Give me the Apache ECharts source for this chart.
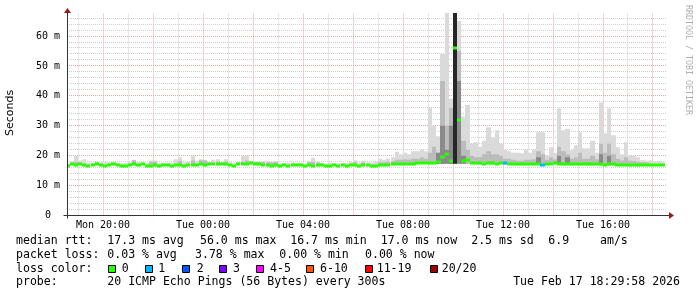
<!DOCTYPE html>
<html><head><meta charset="utf-8">
<script src="https://cdn.jsdelivr.net/npm/echarts@6/dist/echarts.min.js"></script>
<style>html,body{margin:0;padding:0;background:#fff}#c{width:697px;height:297px}</style>
</head><body><div id="c"></div>
<script>
// ---- time base: bins of 10 min, hours counted from Mon 00:00 ----
const startHour = 18 + 35 / 60;   // centre of first bin (Mon 18:35)
const stepHours = 10 / 60;        // 10-minute bins
const xMin = 18.56, xMax = 42.56; // Mon 18:33:36 .. Tue 18:33:36
const yMin = 0, yMax = 67.7;

// ---- median RTT (ms), one per bin ----
const median = [
  16.7,17.2,17.0,17.1,16.9,16.7,17.0,17.1,16.8,16.7,16.9,17.1,
  16.8,16.7,16.7,17.0,17.1,16.8,17.2,16.7,16.7,16.8,16.7,16.8,
  17.0,16.7,16.8,16.9,16.7,16.8,16.9,17.0,17.1,16.8,17.1,17.2,
  17.1,17.3,17.1,17.0,16.7,17.2,17.3,17.3,17.4,17.3,17.1,16.9,
  16.8,16.7,16.8,16.7,16.8,16.7,16.8,16.9,16.8,16.7,16.9,16.7,
  16.8,16.9,16.7,16.7,16.8,16.7,16.8,16.7,16.8,16.8,16.7,16.8,
  16.8,16.7,16.7,16.8,16.9,17.0,17.1,17.2,17.2,17.2,17.3,17.3,
  17.5,17.6,17.6,17.5,17.7,17.8,19.6,20.5,18.2,56.0,31.8,18.3,
  18.4,17.6,17.4,17.4,17.3,17.4,17.4,17.3,17.4,17.4,17.2,17.2,
  17.2,17.1,17.2,17.2,17.1,17.2,17.0,17.1,17.2,17.4,17.2,17.1,
  17.2,17.1,17.2,17.1,17.2,17.1,17.1,17.2,17.1,17.0,17.1,17.1,
  17.0,16.9,16.9,16.8,16.9,16.8,16.9,16.9,16.8,16.9,16.9,17.0
];
// ---- lowest ping per bin (bottom of the smoke) ----
const pingMin = [
  16.4,16.8,16.7,16.8,16.6,16.4,16.7,16.8,16.5,16.4,16.6,16.8,
  16.5,16.4,16.4,16.7,16.8,16.5,16.9,16.4,16.4,16.5,16.4,16.5,
  16.7,16.4,16.5,16.6,16.4,16.5,16.6,16.7,16.8,16.5,16.8,16.9,
  16.8,17.0,16.8,16.7,16.4,16.9,17.0,17.0,17.1,17.0,16.8,16.6,
  16.5,16.4,16.5,16.4,16.5,16.4,16.5,16.6,16.5,16.4,16.6,16.4,
  16.5,16.6,16.4,16.4,16.5,16.4,16.5,16.4,16.5,16.5,16.4,16.5,
  16.5,16.4,16.4,16.5,16.6,16.7,16.8,16.9,16.9,16.9,17.0,17.0,
  17.1,17.2,17.2,17.1,17.2,17.2,17.2,17.3,17.2,17.3,17.3,17.3,
  17.2,17.2,17.1,17.1,17.0,17.1,17.1,17.0,17.1,17.1,16.9,16.9,
  16.9,16.8,16.9,16.9,16.8,16.9,16.7,16.8,16.9,17.1,16.9,16.8,
  16.9,16.8,16.9,16.8,16.9,16.8,16.8,16.9,16.8,16.7,16.8,16.8,
  16.7,16.6,16.6,16.5,16.6,16.5,16.6,16.6,16.5,16.6,16.6,16.7
];
// ---- highest ping per bin (top of the light smoke) ----
const smokeHi = [
  17.4,18.0,20.0,18.4,18.8,17.7,17.6,17.8,17.7,17.9,17.8,18.0,
  17.6,17.5,17.6,17.8,18.5,18.0,17.7,17.6,18.4,18.4,17.6,17.5,
  17.6,17.7,18.8,19.5,17.8,18.0,20.0,18.4,18.8,18.6,18.0,18.6,
  18.8,18.0,18.8,17.8,17.6,17.9,20.0,20.0,18.2,18.2,18.0,18.1,
  18.0,17.8,18.2,17.6,17.5,17.6,17.8,17.5,17.5,17.4,18.2,19.2,
  18.0,17.6,17.4,17.7,17.5,17.5,17.4,17.6,18.0,18.5,17.7,18.2,
  17.8,17.7,18.0,19.0,18.6,19.0,19.5,21.3,20.5,21.0,20.5,21.5,
  21.5,22.0,21.5,36.0,30.0,26.5,54.0,67.7,39.0,67.7,65.0,33.0,
  37.0,24.0,24.5,23.0,25.0,29.5,26.0,28.5,24.0,22.0,21.5,21.0,
  21.0,20.8,22.0,21.0,22.0,27.8,27.8,20.0,22.8,21.0,35.8,28.5,
  29.0,21.8,23.5,27.8,22.5,22.5,25.0,21.0,37.8,27.5,35.8,26.8,
  22.8,20.5,24.5,20.0,20.0,19.5,18.5,18.3,18.5,18.0,18.2,17.8
];
// ---- inner quantile band top (medium smoke), null = none ----
const smokeMid = [
  null,null,18.0,null,null,null,null,17.9,null,null,null,null,
  null,null,null,null,18.5,null,null,null,18.0,18.0,null,null,
  null,null,null,18.2,null,null,18.4,null,18.5,18.4,null,null,
  18.0,null,18.0,null,null,null,18.0,18.4,17.9,17.9,17.8,17.9,
  17.8,17.7,17.8,null,null,null,null,null,null,null,17.8,17.9,
  17.7,null,null,null,null,null,null,null,null,17.8,null,17.7,
  null,null,null,17.8,17.8,18.0,18.2,18.6,18.6,18.8,18.6,19.0,
  19.0,19.5,19.0,21.0,23.0,21.0,45.0,30.0,36.0,67.7,55.0,25.0,
  22.0,20.0,19.5,19.5,20.5,21.5,20.5,20.5,20.0,19.0,19.0,18.6,
  18.3,18.3,18.6,18.6,18.8,21.5,20.5,18.6,19.5,18.8,23.0,21.5,
  20.5,19.0,19.5,21.0,19.0,19.0,20.0,18.8,24.0,21.0,24.0,20.5,
  19.0,18.4,19.5,18.4,18.2,18.0,17.8,17.7,null,null,null,null
];
// ---- dense core of the smoke (dark), null = none ----
const smokeDark = [
  null,null,null,null,null,null,null,null,null,null,null,null,
  null,null,null,null,null,null,null,null,null,null,null,null,
  null,null,null,null,null,null,null,null,null,null,null,null,
  null,null,null,null,null,null,null,null,null,null,null,null,
  null,null,null,null,null,null,null,null,null,null,null,null,
  null,null,null,null,null,null,null,null,null,null,null,null,
  null,null,null,null,null,null,null,null,null,null,null,null,
  null,null,null,null,null,null,null,null,null,67.7,null,null,
  null,null,null,null,null,null,null,null,null,null,null,null,
  null,null,null,null,null,null,null,null,null,null,null,null,
  null,null,null,null,null,null,null,null,null,null,null,null,
  null,null,null,null,null,null,null,null,null,null,null,null
];
// ---- deeper shade near the spikes, null = none ----
const smokeDeep = [
  null,null,null,null,null,null,null,null,null,null,null,null,
  null,null,null,null,null,null,null,null,null,null,null,null,
  null,null,null,null,null,null,null,null,null,null,null,null,
  null,null,null,null,null,null,null,null,null,null,null,null,
  null,null,null,null,null,null,null,null,null,null,null,null,
  null,null,null,null,null,null,null,null,null,null,null,null,
  null,null,null,null,null,null,null,null,null,null,null,null,
  null,null,null,null,null,21.0,30.0,22.0,30.0,null,45.0,20.0,
  null,null,null,null,null,null,null,null,null,null,null,null,
  null,null,null,null,null,19.5,null,null,null,null,20.0,null,
  19.5,null,null,null,null,null,null,null,20.5,null,20.0,null,
  null,null,null,null,null,null,null,null,null,null,null,null
];
// ---- lost pings per bin (of 20) ----
const loss = [
  0,0,0,0,0,0,0,0,0,0,0,0, 0,0,0,0,0,0,0,0,0,0,0,0,
  0,0,0,0,0,0,0,0,0,0,0,0, 0,0,0,0,0,0,0,0,0,0,0,0,
  0,0,0,0,0,0,0,0,0,0,0,0, 0,0,0,0,0,0,0,0,0,0,0,0,
  0,0,0,0,0,0,0,0,0,0,0,0, 0,0,0,0,0,0,0,0,0,0,0,0,
  0,0,0,0,0,0,0,0,0,1,0,0, 0,0,0,0,0,0,1,0,0,0,0,0,
  0,0,0,0,0,0,0,0,0,0,0,0, 0,0,0,0,0,0,0,0,0,0,0,0
];

// ---- axes ----
const xTickHours = [20, 24, 28, 32, 36, 40];
const xTickLabels = ['Mon 20:00', 'Tue 00:00', 'Tue 04:00', 'Tue 08:00', 'Tue 12:00', 'Tue 16:00'];
const yTicks = [0, 10, 20, 30, 40, 50, 60];
const yTickLabels = ['0', '10 m', '20 m', '30 m', '40 m', '50 m', '60 m'];
const gridHours = [19,20,21,22,23,24,25,26,27,28,29,30,31,32,33,34,35,36,37,38,39,40,41,42];
const gridMs = [2,4,6,8,10,12,14,16,18,20,22,24,26,28,30,32,34,36,38,40,42,44,46,48,50,52,54,56,58,60,62,64,66];

// ---- legend ----
const lossLevels = ['0', '1', '2', '3', '4-5', '6-10', '11-19', '20/20'];
const lossColors = ['#26ff00', '#00b8ff', '#0059ff', '#7e00ff', '#ff00ff', '#ff5500', '#ff0000', '#a00000'];
const rttStats = ['median rtt:', '17.3 ms avg', '56.0 ms max', '16.7 ms min', '17.0 ms now', '2.5 ms sd', '6.9', 'am/s'];
const lossStats = ['packet loss:', '0.03 % avg', '3.78 % max', '0.00 % min', '0.00 % now'];
const probeText = ['probe:', '20 ICMP Echo Pings (56 Bytes) every 300s'];
const stampText = 'Tue Feb 17 18:29:58 2026';
const yTitle = 'Seconds';
const watermark = 'RRDTOOL / TOBI OETIKER';

(function () {
const times = median.map((_, i) => startHour + i * stepHours);
function lossIndex(n) { if (n <= 3) return n; if (n <= 5) return 4; if (n <= 10) return 5; if (n <= 19) return 6; return 7; }

const MONO = '"DejaVu Sans Mono", monospace';
const chart = echarts.init(document.getElementById('c'), null, { renderer: 'canvas' });

function band(topArr, color, z) {
  const data = [];
  topArr.forEach((v, i) => { if (v != null) data.push([times[i], pingMin[i], v]); });
  return {
    type: 'custom', z, silent: true, clip: true, data,
    encode: { x: 0, y: [1, 2] },
    renderItem(params, api) {
      const t = api.value(0), lo = api.value(1), hi = api.value(2);
      const a = api.coord([t - stepHours / 2, hi]);
      const b = api.coord([t + stepHours / 2, lo]);
      const x0 = Math.round(a[0]), x1 = Math.round(b[0]);
      return { type: 'rect', shape: { x: x0, y: a[1], width: x1 - x0, height: b[1] - a[1] }, style: { fill: color } };
    }
  };
}

const option = {
  animation: false,
  backgroundColor: '#fff',
  grid: { left: 67, right: 30, top: 13, bottom: 81.5 },
  xAxis: {
    type: 'value', min: xMin, max: xMax,
    axisLine: { show: false }, axisTick: { show: false }, splitLine: { show: false },
    axisLabel: {
      customValues: xTickHours, margin: 5, color: '#000',
      fontFamily: 'DejaVu Sans Mono', fontSize: 10,
      formatter: v => xTickLabels[xTickHours.indexOf(v)] || ''
    }
  },
  yAxis: {
    type: 'value', min: yMin, max: yMax,
    axisLine: { show: false }, axisTick: { show: false }, splitLine: { show: false },
    axisLabel: {
      customValues: yTicks, margin: 7, color: '#000',
      fontFamily: 'DejaVu Sans Mono', fontSize: 10,
      formatter: v => { const s = yTickLabels[yTicks.indexOf(v)] || ''; return v === 0 ? '{z|' + s + '}' : s; },
      rich: { z: { fontFamily: 'DejaVu Sans Mono', fontSize: 10, color: '#000', padding: [0, 9, 0, 0] } }
    }
  },
  series: [
    {
      type: 'custom', z: 1, silent: true, data: gridHours.map(h => [h, yMin]), encode: { x: 0, y: 1 },
      renderItem(params, api) {
        const h = api.value(0);
        const a = api.coord([h, yMin]), b = api.coord([h, yMax]);
        const x = Math.round(a[0] - 0.5) + 0.5;
        return { type: 'line', shape: { x1: x, y1: a[1], x2: x, y2: b[1] },
          style: { stroke: h % 2 === 0 ? '#e6a8a8' : '#cfcfcf', lineWidth: 1, lineDash: [1, 1] } };
      }
    },
    {
      type: 'custom', z: 1, silent: true, data: gridMs.map(v => [xMin, v]), encode: { x: 0, y: 1 },
      renderItem(params, api) {
        const v = api.value(1);
        const a = api.coord([xMin, v]), b = api.coord([xMax, v]);
        const y = Math.round(a[1] - 0.5) + 0.5;
        return { type: 'line', shape: { x1: a[0], y1: y, x2: b[0], y2: y },
          style: { stroke: v % 10 === 0 ? '#e6a8a8' : '#cfcfcf', lineWidth: 1, lineDash: [1, 1] } };
      }
    },
    band(smokeHi, '#dadada', 2),
    band(smokeMid, '#bcbcbc', 3),
    band(smokeDeep, '#8a8a8a', 4),
    band(smokeDark, '#262626', 5),
    {
      type: 'custom', z: 6, silent: true, clip: true,
      data: median.map((m, i) => [times[i], m, loss[i]]), encode: { x: 0, y: 1 },
      renderItem(params, api) {
        const t = api.value(0), m = api.value(1), l = api.value(2);
        const a = api.coord([t - stepHours / 2, m]), b = api.coord([t + stepHours / 2, m]);
        const x0 = Math.round(a[0]), x1 = Math.round(b[0]);
        return { type: 'rect', shape: { x: x0, y: Math.round(a[1]) - 1.5, width: x1 - x0, height: 3 },
          style: { fill: lossColors[lossIndex(l)] } };
      }
    }
  ]
};
chart.setOption(option);

const pBL = chart.convertToPixel({ gridIndex: 0 }, [xMin, yMin]);
const pTR = chart.convertToPixel({ gridIndex: 0 }, [xMax, yMax]);
const ax = Math.round(pBL[0]) + 0.5, ay = Math.round(pBL[1] - 0.5) + 0.5;
const rightX = Math.round(pTR[0]), topY = Math.round(pTR[1]);
const g = [];
g.push({ type: 'line', z: 10, shape: { x1: ax, y1: topY - 1, x2: ax, y2: ay + 3 }, style: { stroke: '#333', lineWidth: 1 } });
g.push({ type: 'line', z: 10, shape: { x1: ax - 4, y1: ay, x2: rightX + 3, y2: ay }, style: { stroke: '#333', lineWidth: 1 } });
g.push({ type: 'polygon', z: 11, shape: { points: [[ax, topY - 5], [ax - 3.5, topY], [ax + 3.5, topY]] }, style: { fill: '#9b1c1c' } });
g.push({ type: 'polygon', z: 11, shape: { points: [[rightX + 7, ay], [rightX + 2, ay - 3.5], [rightX + 2, ay + 3.5]] }, style: { fill: '#9b1c1c' } });
g.push({ type: 'text', z: 10, x: 10, y: 113, rotation: Math.PI / 2,
  style: { text: yTitle, font: '11px "DejaVu Sans"', fill: '#000', align: 'center', verticalAlign: 'middle' } });
g.push({ type: 'text', z: 10, x: 688, y: 60, rotation: -Math.PI / 2,
  style: { text: watermark, font: '8.3px ' + MONO, fill: '#b0b0b0', align: 'center', verticalAlign: 'middle' } });

const LF = '11.56px ' + MONO;
const row1X = [16, 107.3, 200, 290.2, 380.7, 471.2, 548.3, 600];
const row2X = [16, 107.3, 195, 279.3, 365];
const rowY = [240.5, 254.7, 268.6, 282];
rttStats.forEach((s, i) => g.push({ type: 'text', x: row1X[i], y: rowY[0], style: { text: s, font: LF, fill: '#000', verticalAlign: 'middle' } }));
lossStats.forEach((s, i) => g.push({ type: 'text', x: row2X[i], y: rowY[1], style: { text: s, font: LF, fill: '#000', verticalAlign: 'middle' } }));
g.push({ type: 'text', x: 16, y: rowY[2], style: { text: 'loss color:', font: LF, fill: '#000', verticalAlign: 'middle' } });
const boxX = [108, 145, 182, 219, 256, 306, 365, 430];
const labX = [121.7, 158.3, 196.7, 233, 270, 320, 376.7, 441.7];
lossLevels.forEach((s, i) => {
  g.push({ type: 'rect', shape: { x: boxX[i] + 0.5, y: 265.5, width: 7, height: 7 }, style: { fill: lossColors[i], stroke: '#000', lineWidth: 1 } });
  g.push({ type: 'text', x: labX[i], y: rowY[2], style: { text: s, font: LF, fill: '#000', verticalAlign: 'middle' } });
});
g.push({ type: 'text', x: 16, y: rowY[3], style: { text: probeText[0], font: LF, fill: '#000', verticalAlign: 'middle' } });
g.push({ type: 'text', x: 107.3, y: rowY[3], style: { text: probeText[1], font: LF, fill: '#000', verticalAlign: 'middle' } });
g.push({ type: 'text', x: 680, y: rowY[3], style: { text: stampText, font: LF, fill: '#000', align: 'right', verticalAlign: 'middle' } });
chart.setOption({ graphic: g });
})();
</script>
</body></html>
